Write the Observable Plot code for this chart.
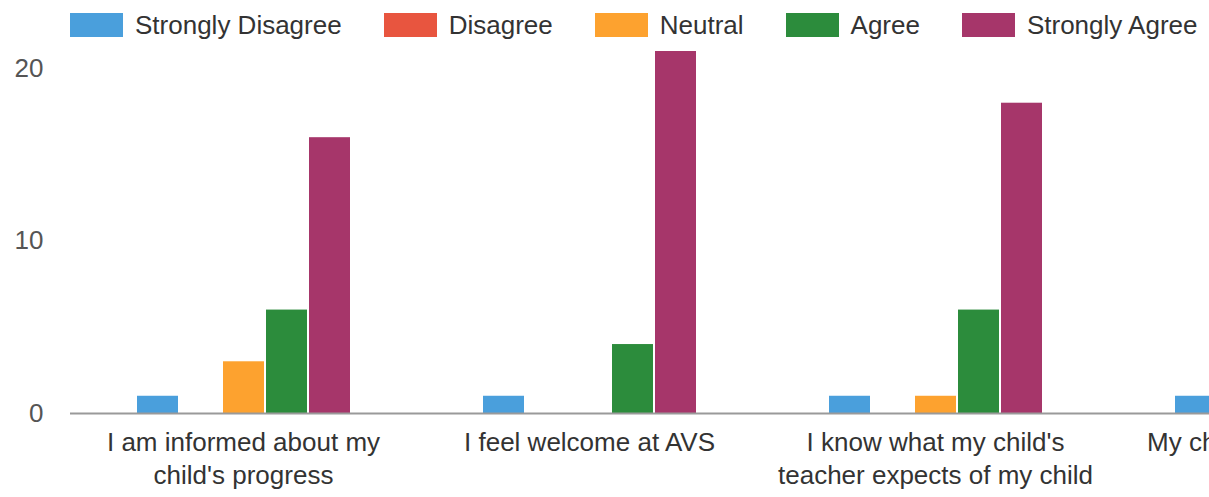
<!DOCTYPE html>
<html>
<head>
<meta charset="utf-8">
<script src="https://cdn.jsdelivr.net/npm/d3@7"></script>
<script src="https://cdn.jsdelivr.net/npm/@observablehq/plot@0.6"></script>
<style>
  html, body { margin: 0; padding: 0; background: #fff; }
  #wrap { width: 1209px; height: 497px; overflow: hidden; position: relative; background: #fff; }
  #wrap svg { max-width: none !important; }
  .lg-swatches { display: flex !important; flex-wrap: nowrap !important; align-items: center; height: 50px; min-height: 50px; margin: 0 !important; padding-left: 70px; width: 1600px; white-space: nowrap; font: 26px "Liberation Sans", Arial, sans-serif; color: #333; }
  .lg-swatch { margin-right: 42px !important; display: inline-flex; align-items: center; }
  .lg-swatch > svg { margin-right: 12px !important; }
</style>
</head>
<body>
<div id="wrap"></div>
<script>
const questions = [
  "I am informed about my child's progress",
  "I feel welcome at AVS",
  "I know what my child's teacher expects of my child",
  "My child enjoys coming to school"
];
const tickLabels = [
  "I am informed about my\nchild's progress",
  "I feel welcome at AVS",
  "I know what my child's\nteacher expects of my child",
  "My child enjoys coming\nto school"
];
const responses = ["Strongly Disagree", "Disagree", "Neutral", "Agree", "Strongly Agree"];
const colors = ["#4a9fdc", "#e8553f", "#fda22f", "#2c8c3c", "#a6366a"];
const stronglyDisagree = [1, 1, 1, 1];
const disagree = [0, 0, 0, 0];
const neutral = [3, 0, 1, 1];
const agree = [6, 4, 6, 5];
const stronglyAgree = [16, 21, 18, 17];
const yTicks = [0, 10, 20];

const series = [stronglyDisagree, disagree, neutral, agree, stronglyAgree];
const data = [];
questions.forEach((q, i) => {
  responses.forEach((r, j) => data.push({question: q, response: r, value: series[j][i]}));
});
const labelOf = new Map(questions.map((q, i) => [q, tickLabels[i]]));

const chart = Plot.plot({
  width: 1455,
  height: 447,
  marginLeft: 69,
  marginRight: 0,
  marginTop: 1,
  marginBottom: 84,
  style: {fontFamily: "'Liberation Sans', Arial, sans-serif", fontSize: "26px", background: "#fff", maxWidth: "none"},
  fx: {domain: questions, paddingInner: 0, paddingOuter: 0, axis: null},
  x: {domain: responses, paddingInner: 0.052, paddingOuter: 1.534, axis: null},
  y: {domain: [0, 21], axis: null},
  color: {domain: responses, range: colors},
  marks: [
    Plot.barY(data, {fx: "question", x: "response", y: "value", fill: "response"}),
    Plot.ruleY([0], {stroke: "#9a9a9a", strokeWidth: 2}),
    Plot.axisY({ticks: yTicks, tickSize: 0, tickPadding: 27, label: null, fill: "#555", fontSize: 26}),
    Plot.axisFx({anchor: "bottom", tickSize: 0, tickPadding: 14, label: null, tickFormat: d => labelOf.get(d), lineHeight: 1.27, fill: "#333", fontSize: 26})
  ]
});

const legend = chart.legend("color", {
  legend: "swatches",
  className: "lg",
  swatchWidth: 53,
  swatchHeight: 24
});

const wrap = document.getElementById("wrap");
wrap.appendChild(legend);
wrap.appendChild(chart);
</script>
</body>
</html>
